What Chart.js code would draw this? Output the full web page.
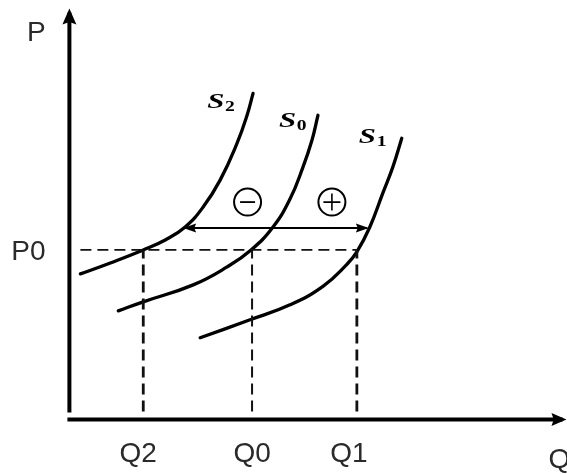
<!DOCTYPE html>
<html>
<head>
<meta charset="utf-8">
<script src="https://cdn.jsdelivr.net/npm/chart.js@4.4.1/dist/chart.umd.min.js"></script>
<style>
  html, body { margin: 0; padding: 0; background: #ffffff; }
  #wrap { width: 567px; height: 474px; }
</style>
</head>
<body>
<div id="wrap"><canvas id="c" width="567" height="474"></canvas></div>
<script>
// ---- data (Q = quantity, P = price, arbitrary units) ----
const qTickLabels = ['Q2', 'Q0', 'Q1'];
const qTickValues = [14.8, 36.6, 57.6];
const pTickLabel = 'P0';
const p0Value = 42.5;

const s2Q = [2.2, 8.2, 14.8, 19.2, 23.2, 26.8, 30.2, 33.6, 35.6, 36.8];
const s2P = [36.5, 39.25, 42.5, 45.0, 48.25, 53.25, 60.0, 69.25, 76.25, 81.75];

const s0Q = [9.8, 14.8, 24.8, 31.6, 36.4, 40.8, 44.2, 46.8, 48.6, 49.8];
const s0P = [27.25, 29.5, 33.75, 38.25, 42.5, 48.25, 55.25, 63.25, 70.0, 76.25];

const s1Q = [26.2, 36.2, 44.2, 50.8, 55.6, 57.6, 60.2, 62.8, 64.8, 66.6];
const s1P = [20.5, 25.0, 28.75, 33.4, 38.9, 42.0, 48.25, 56.75, 63.25, 70.5];

const curveNames = ['S', 'S', 'S'];
const curveSubs = ['2', '0', '1'];

const shiftArrowQ = [23.2, 59.6];   // from S2 to S1
const shiftArrowP = 48.0;
const signLabels = ['minus', 'plus'];
const signQ = [35.7, 52.6];
const signP = 54.5;

const axisLabelP = 'P';
const axisLabelQ = 'Q';

// ---- helpers ----
const pts = (xs, ys) => xs.map((x, i) => ({ x: x, y: ys[i] }));

const datasets = [];
// dashed guide lines
datasets.push({
  data: [{ x: 2.2, y: p0Value }, { x: qTickValues[2], y: p0Value }],
  showLine: true, pointRadius: 0, borderColor: '#111', borderWidth: 1.8,
  borderDash: [11, 6], clip: false
});
const guideWidths = [2.8, 2.0, 2.8];
qTickValues.forEach((q, i) => {
  datasets.push({
    data: [{ x: q, y: 2 }, { x: q, y: p0Value }],
    showLine: true, pointRadius: 0, borderColor: '#111', borderWidth: guideWidths[i],
    borderDash: [11, 6], clip: false
  });
});
// axes
datasets.push({
  data: [{ x: 0, y: 1.75 }, { x: 0, y: 102 }],
  showLine: true, pointRadius: 0, borderColor: '#000', borderWidth: 4,
  arrow: 'end', arrowLen: 16, arrowWidth: 14, arrowExt: 4, clip: false
});
datasets.push({
  data: [{ x: -0.4, y: 0 }, { x: 98.8, y: 0 }],
  showLine: true, pointRadius: 0, borderColor: '#000', borderWidth: 4,
  arrow: 'end', arrowLen: 15, arrowWidth: 13, arrowExt: 4, clip: false
});
// supply curves
[[s2Q, s2P], [s0Q, s0P], [s1Q, s1P]].forEach(([q, p]) => {
  datasets.push({
    data: pts(q, p), showLine: true, pointRadius: 0, borderColor: '#000',
    borderWidth: 3.3, tension: 0.45, borderCapStyle: 'round', borderJoinStyle: 'round', clip: false
  });
});
// double arrow
datasets.push({
  data: [{ x: shiftArrowQ[0], y: shiftArrowP }, { x: shiftArrowQ[1], y: shiftArrowP }],
  showLine: true, pointRadius: 0, borderColor: '#000', borderWidth: 2,
  arrow: 'both', arrowLen: 13, arrowWidth: 9, arrowExt: 2, clip: false
});
// circled signs
datasets.push({
  data: signQ.map(q => ({ x: q, y: signP })), showLine: false,
  pointRadius: 13.5, pointStyle: 'circle', borderColor: '#000', borderWidth: 2,
  backgroundColor: 'rgba(0,0,0,0)', clip: false
});
datasets.push({
  data: [{ x: signQ[0], y: signP }], showLine: false,
  pointRadius: 7.5, pointStyle: 'line', borderColor: '#000', borderWidth: 1.8, clip: false
});
datasets.push({
  data: [{ x: signQ[1], y: signP }], showLine: false,
  pointRadius: 8.5, pointStyle: 'cross', borderColor: '#000', borderWidth: 1.6, clip: false
});

// text label placement (data coordinates)
const textLayout = {
  axisP: { x: -6.6, y: 96.75 },
  axisQ: { x: 98.2, y: -10.25 },
  p0: { x: -8.2, y: 42.0 },
  qTickY: -8.75,
  qTickX: [13.8, 36.6, 56.0],
  curves: [{ x: 27.6, y: 78.0 }, { x: 42.0, y: 73.25 }, { x: 58.0, y: 69.25 }]
};

const arrowPlugin = {
  id: 'arrows',
  afterDatasetsDraw(chart) {
    const ctx = chart.ctx, xs = chart.scales.x, ys = chart.scales.y;
    chart.data.datasets.forEach(ds => {
      if (!ds.arrow) return;
      const d = ds.data;
      const ends = [[d[d.length - 1], d[d.length - 2]]];
      if (ds.arrow === 'both') ends.push([d[0], d[1]]);
      ends.forEach(([tip, prev]) => {
        const tx = xs.getPixelForValue(tip.x), ty = ys.getPixelForValue(tip.y);
        const px = xs.getPixelForValue(prev.x), py = ys.getPixelForValue(prev.y);
        const a = Math.atan2(ty - py, tx - px);
        ctx.save();
        ctx.translate(tx, ty);
        ctx.rotate(a);
        ctx.beginPath();
        ctx.moveTo(ds.arrowExt, 0);
        ctx.lineTo(ds.arrowExt - ds.arrowLen, -ds.arrowWidth / 2);
        ctx.lineTo(ds.arrowExt - ds.arrowLen * 0.85, 0);
        ctx.lineTo(ds.arrowExt - ds.arrowLen, ds.arrowWidth / 2);
        ctx.closePath();
        ctx.fillStyle = ds.borderColor;
        ctx.fill();
        ctx.restore();
      });
    });
  }
};

const textPlugin = {
  id: 'texts',
  afterDraw(chart) {
    const ctx = chart.ctx, xs = chart.scales.x, ys = chart.scales.y;
    const X = v => xs.getPixelForValue(v), Y = v => ys.getPixelForValue(v);
    ctx.save();
    ctx.fillStyle = '#2a2a2a';
    ctx.font = '28px "Liberation Sans", Arial, sans-serif';
    ctx.textAlign = 'center';
    ctx.textBaseline = 'middle';
    ctx.fillText(axisLabelP, X(textLayout.axisP.x), Y(textLayout.axisP.y));
    ctx.fillText(pTickLabel, X(textLayout.p0.x), Y(textLayout.p0.y));
    qTickLabels.forEach((t, i) => ctx.fillText(t, X(textLayout.qTickX[i]), Y(textLayout.qTickY)));
    ctx.fillText(axisLabelQ, X(textLayout.axisQ.x), Y(textLayout.axisQ.y));
    // curve labels: S with subscript, serif, wide and heavy
    ctx.fillStyle = '#000';
    ctx.textAlign = 'left';
    ctx.textBaseline = 'alphabetic';
    curveNames.forEach((n, i) => {
      const p = textLayout.curves[i];
      const x = X(p.x), y = Y(p.y);
      ctx.save();
      ctx.translate(x, y);
      ctx.scale(1.4, 1);
      ctx.font = 'italic bold 22px "Liberation Serif", "DejaVu Serif", serif';
      ctx.fillText(n, 0, 0);
      const w = ctx.measureText(n).width;
      ctx.font = 'bold 14px "Liberation Serif", "DejaVu Serif", serif';
      ctx.fillText(curveSubs[i], w + 0.5, 3);
      ctx.restore();
    });
    ctx.restore();
  }
};

new Chart(document.getElementById('c'), {
  type: 'scatter',
  data: { datasets: datasets },
  options: {
    responsive: false,
    devicePixelRatio: 1,
    animation: false,
    events: [],
    layout: { padding: 15 },
    plugins: { legend: { display: false }, tooltip: { enabled: false }, title: { display: false } },
    scales: {
      x: { type: 'linear', min: -10.8, max: 96.6, display: false },
      y: { type: 'linear', min: -9.75, max: 101.25, display: false }
    }
  },
  plugins: [arrowPlugin, textPlugin]
});
</script>
</body>
</html>
